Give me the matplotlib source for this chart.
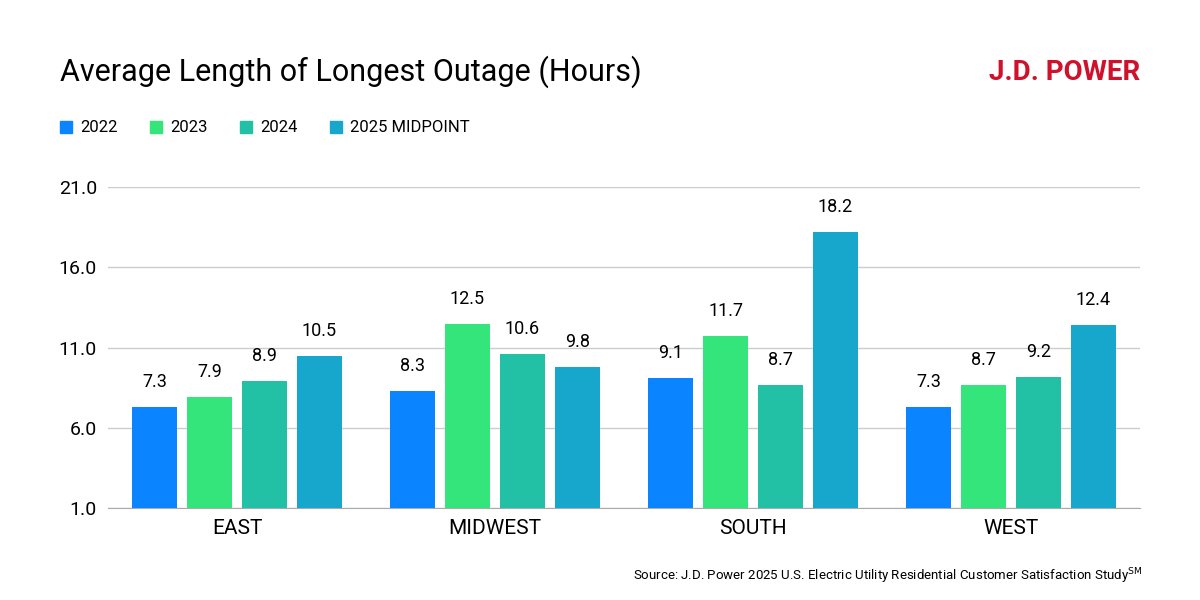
import matplotlib.pyplot as plt
import numpy as np

plt.rcParams['font.family'] = ['Roboto', 'DejaVu Sans']

regions = ["EAST", "MIDWEST", "SOUTH", "WEST"]
years = ["2022", "2023", "2024", "2025 MIDPOINT"]
values = {
    "2022": [7.3, 8.3, 9.1, 7.3],
    "2023": [7.9, 12.5, 11.7, 8.7],
    "2024": [8.9, 10.6, 8.7, 9.2],
    "2025 MIDPOINT": [10.5, 9.8, 18.2, 12.4],
}
colors = ["#0A84FF", "#33E57A", "#22C1A6", "#17A7CC"]
yticks = [1.0, 6.0, 11.0, 16.0, 21.0]

fig = plt.figure(figsize=(12, 6), dpi=100)
ax = fig.add_axes([0.09, 0.153, 0.86, 0.535])

x = np.arange(len(regions))
width = 0.174
step = 0.213
for i, (yr, col) in enumerate(zip(years, colors)):
    vals = values[yr]
    pos = x + (i - 1.5) * step
    ax.bar(pos, [v - 1.0 for v in vals], width, bottom=1.0, color=col, zorder=3)
    for p, v in zip(pos, vals):
        ax.text(p, v + 1.0, f"{v:.1f}", ha="center", va="bottom", fontsize=13)

ax.set_xlim(-0.5, 3.5)
ax.set_ylim(1, 21)
ax.set_yticks(yticks)
ax.set_yticklabels([f"{t:.1f}" for t in yticks], fontsize=14)
ax.set_xticks(x)
ax.set_xticklabels(regions, fontsize=15)
ax.tick_params(length=0, pad=8)
ax.yaxis.grid(True, color="#cccccc", lw=1, zorder=0)
for s in ax.spines.values():
    s.set_visible(False)
ax.spines["bottom"].set_visible(True)
ax.spines["bottom"].set_color("#aaaaaa")

fig.text(0.05, 0.88, "Average Length of Longest Outage (Hours)", fontsize=22, va="center")
fig.text(0.95, 0.88, "J.D. POWER", fontsize=20, fontweight="bold", color="#D0112B",
         ha="right", va="center")

lx = [0.05, 0.125, 0.2, 0.275]
for px, yr, col in zip(lx, years, colors):
    fig.patches.append(plt.Rectangle((px, 0.778), 0.01, 0.02, color=col,
                                     transform=fig.transFigure, figure=fig))
    fig.text(px + 0.017, 0.788, yr, fontsize=12, va="center")

fig.text(0.952, 0.04, r"Source: J.D. Power 2025 U.S. Electric Utility Residential Customer Satisfaction Study$^{\mathrm{SM}}$",
         fontsize=9.5, ha="right", va="center")

fig.savefig("out.png", dpi=100)
